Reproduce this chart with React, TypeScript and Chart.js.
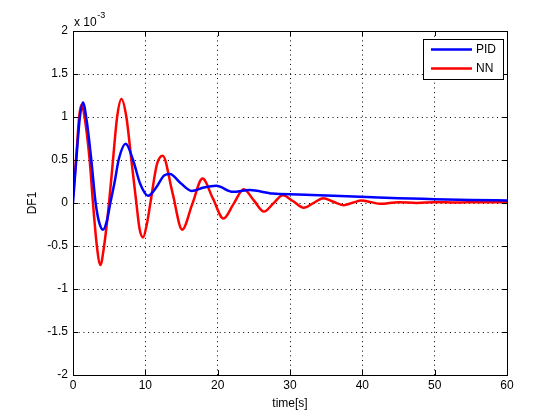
import React, { useEffect, useRef } from "react";
import { Chart, registerables } from "chart.js";

Chart.register(...registerables);

// PID response (DF1, x 10^-3)
const pidTime = [0, 0.5, 0.95, 1.38, 1.9, 2.53, 3.13, 3.6, 4.15, 4.65, 5.16, 5.77, 6.36, 7.29, 8.3, 9.3, 10.37, 11.5, 12.6, 13.4, 14.9, 16.4, 18.1, 19.8, 22.1, 24.4, 27.6, 31.1, 36, 40.6, 45, 50, 55, 60];
const pidValues = [0.0, 0.55, 1.0, 1.17, 0.95, 0.5, 0.0, -0.22, -0.31, -0.22, 0.0, 0.25, 0.52, 0.69, 0.5, 0.22, 0.085, 0.18, 0.32, 0.336, 0.23, 0.14, 0.18, 0.2, 0.13, 0.15, 0.11, 0.1, 0.085, 0.07, 0.055, 0.045, 0.035, 0.03];

// NN response (DF1, x 10^-3)
const nnTime = [0, 0.5, 0.85, 1.15, 1.6, 2.3, 2.76, 3.3, 3.78, 4.3, 4.98, 5.53, 6.1, 6.69, 7.38, 8.07, 8.76, 9.2, 9.68, 10.2, 10.7, 11.6, 12.4, 13.75, 15.1, 16.5, 17.9, 19.35, 20.8, 22.2, 23.6, 25.0, 26.4, 27.7, 29.0, 30.45, 31.9, 33.25, 34.6, 36.0, 37.4, 38.65, 39.9, 41.2, 42.5, 45, 47.5, 50, 53, 56, 60];
const nnValues = [0.07, 0.6, 1.0, 1.14, 1.0, 0.5, 0.0, -0.5, -0.72, -0.5, 0.0, 0.5, 1.0, 1.21, 1.0, 0.5, 0.0, -0.3, -0.4, -0.25, 0.0, 0.45, 0.55, 0.12, -0.31, -0.01, 0.285, 0.05, -0.18, -0.01, 0.16, 0.03, -0.1, -0.005, 0.09, 0.02, -0.055, 0.0, 0.055, 0.015, -0.025, 0.003, 0.03, 0.01, -0.01, 0.01, 0.0, 0.01, 0.005, 0.01, 0.01];

const seriesLabels = ["PID", "NN"];
const seriesColors = ["#0000ff", "#ff0000"];

const xTicks = [0, 10, 20, 30, 40, 50, 60];
const xTickLabels = ["0", "10", "20", "30", "40", "50", "60"];
const yTicks = [-2, -1.5, -1, -0.5, 0, 0.5, 1, 1.5, 2];
const yTickLabels = ["-2", "-1.5", "-1", "-0.5", "0", "0.5", "1", "1.5", "2"];

const xTitle = "time[s]";
const yTitle = "DF1";
const exponentBase = "x 10";
const exponentPower = "-3";

const FONT = "'Liberation Sans', Arial, Helvetica, sans-serif";

const matlabPlugin = {
  id: "matlabDecor",
  afterDraw(chart: any) {
    const { ctx, chartArea } = chart;
    const { left, right, top, bottom } = chartArea;
    const xs = chart.scales.x;
    const ys = chart.scales.y;
    ctx.save();
    ctx.strokeStyle = "#000";
    ctx.lineWidth = 1;
    ctx.setLineDash([]);
    // box
    ctx.strokeRect(Math.round(left) + 0.5, Math.round(top) + 0.5, Math.round(right - left), Math.round(bottom - top));
    // inward ticks
    const tl = 5;
    ctx.beginPath();
    xTicks.forEach((v) => {
      const px = Math.round(xs.getPixelForValue(v)) + 0.5;
      ctx.moveTo(px, bottom);
      ctx.lineTo(px, bottom - tl);
      ctx.moveTo(px, top);
      ctx.lineTo(px, top + tl);
    });
    yTicks.forEach((v) => {
      const py = Math.round(ys.getPixelForValue(v)) + 0.5;
      ctx.moveTo(left, py);
      ctx.lineTo(left + tl, py);
      ctx.moveTo(right, py);
      ctx.lineTo(right - tl, py);
    });
    ctx.stroke();

    // exponent label
    ctx.fillStyle = "#000";
    ctx.textAlign = "left";
    ctx.textBaseline = "alphabetic";
    ctx.font = `12px ${FONT}`;
    ctx.fillText(exponentBase, left + 1, top - 5);
    const w = ctx.measureText(exponentBase).width;
    ctx.font = `9px ${FONT}`;
    ctx.fillText(exponentPower, left + 1 + w + 0.5, top - 13);

    // legend
    const lx = 423, ly = 39, lw = 80, lh = 40;
    ctx.fillStyle = "#fff";
    ctx.fillRect(lx, ly, lw, lh);
    ctx.strokeStyle = "#000";
    ctx.strokeRect(lx + 0.5, ly + 0.5, lw, lh);
    const rows = [49.5, 68.5];
    chart.data.datasets.forEach((ds: any, i: number) => {
      ctx.strokeStyle = ds.borderColor;
      ctx.lineWidth = 2.5;
      ctx.beginPath();
      ctx.moveTo(431, rows[i]);
      ctx.lineTo(472, rows[i]);
      ctx.stroke();
      ctx.fillStyle = "#000";
      ctx.font = `12px ${FONT}`;
      ctx.textBaseline = "middle";
      ctx.fillText(ds.label, 476, rows[i] + 0.5);
    });
    ctx.restore();
  },
};

export default function App() {
  const ref = useRef<HTMLCanvasElement | null>(null);
  useEffect(() => {
    if (!ref.current) return;
    const mk = (t: number[], v: number[]) => t.map((x, i) => ({ x, y: v[i] }));
    const chart = new Chart(ref.current, {
      type: "line",
      data: {
        datasets: [
          {
            label: seriesLabels[0],
            data: mk(pidTime, pidValues),
            borderColor: seriesColors[0],
            borderWidth: 2.5,
            pointRadius: 0,
            cubicInterpolationMode: "monotone",
            fill: false,
          },
          {
            label: seriesLabels[1],
            data: mk(nnTime, nnValues),
            borderColor: seriesColors[1],
            borderWidth: 2.5,
            pointRadius: 0,
            cubicInterpolationMode: "monotone",
            fill: false,
          },
        ],
      },
      options: {
        animation: false,
        responsive: false,
        maintainAspectRatio: false,
        layout: { padding: { top: 31, right: 53, bottom: 0, left: 0 } },
        plugins: { legend: { display: false }, tooltip: { enabled: false } },
        scales: {
          x: {
            type: "linear",
            min: 0,
            max: 60,
            afterBuildTicks: (s: any) => {
              s.ticks = xTicks.map((v) => ({ value: v }));
            },
            afterFit: (s: any) => {
              s.height = 45;
            },
            ticks: {
              callback: (v: any) => xTickLabels[xTicks.indexOf(Number(v))] ?? "",
              color: "#000",
              font: { family: FONT, size: 12 },
              padding: 3,
              maxRotation: 0,
              autoSkip: false,
            },
            grid: { color: "#000", lineWidth: 1, drawTicks: false },
            border: { display: true, color: "#000", dash: [1, 3.7] },
            title: {
              display: true,
              text: xTitle,
              color: "#000",
              font: { family: FONT, size: 12 },
              padding: { top: 0, bottom: 9.3 },
            },
          },
          y: {
            type: "linear",
            min: -2,
            max: 2,
            afterBuildTicks: (s: any) => {
              s.ticks = yTicks.map((v) => ({ value: v }));
            },
            afterFit: (s: any) => {
              s.width = 73;
            },
            ticks: {
              callback: (v: any) => yTickLabels[yTicks.indexOf(Number(v))] ?? "",
              color: "#000",
              font: { family: FONT, size: 12 },
              padding: 5,
              autoSkip: false,
            },
            grid: { color: "#000", lineWidth: 1, drawTicks: false },
            border: { display: true, color: "#000", dash: [1, 3.7] },
            title: {
              display: true,
              text: yTitle,
              color: "#000",
              font: { family: FONT, size: 12 },
              padding: { top: 25.8, bottom: 0 },
            },
          },
        },
      },
      plugins: [matlabPlugin],
    } as any);
    return () => chart.destroy();
  }, []);
  return (
    <div style={{ position: "fixed", left: 0, top: 0, width: 560, height: 420, background: "#fff" }}>
      <canvas ref={ref} width={560} height={420} style={{ width: 560, height: 420, display: "block" }} />
    </div>
  );
}
